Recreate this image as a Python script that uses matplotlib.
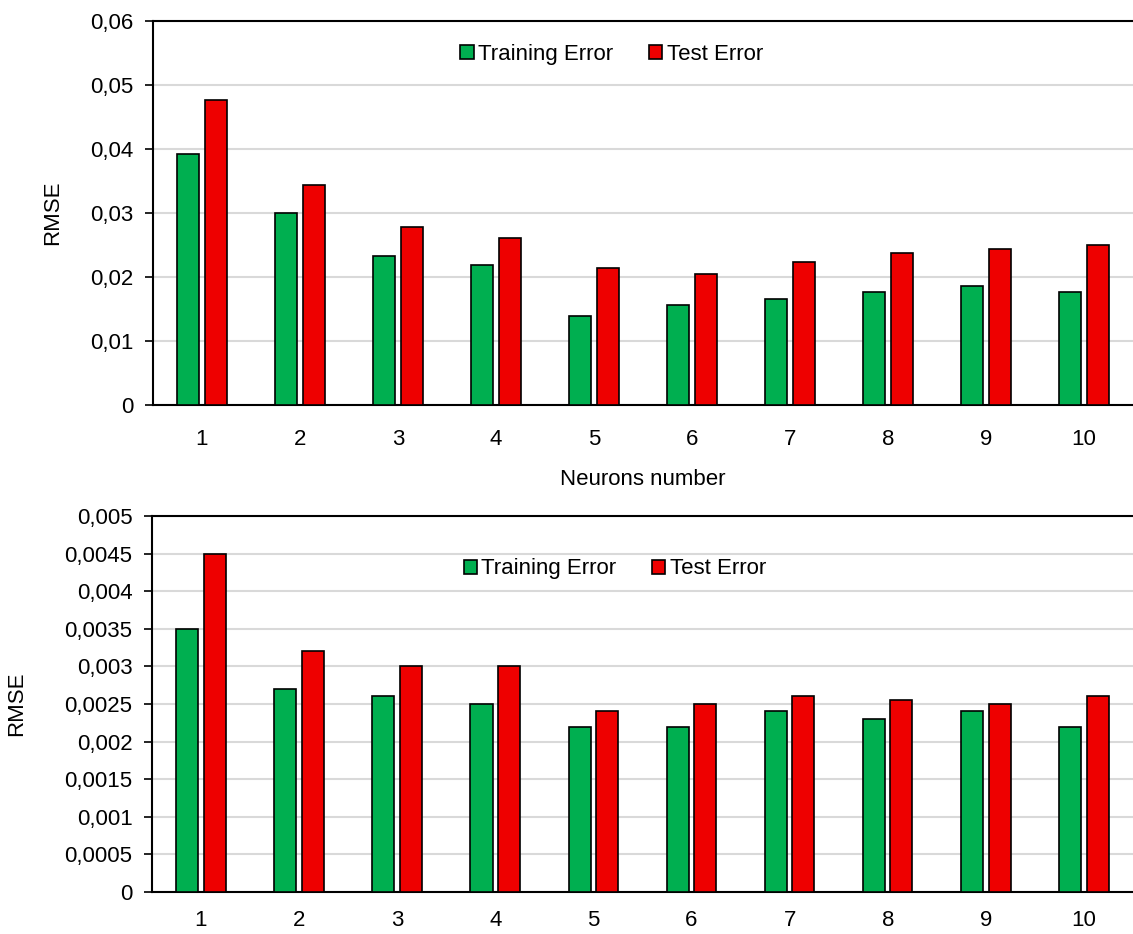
import matplotlib
matplotlib.use("Agg")
import matplotlib.pyplot as plt
from matplotlib.ticker import FuncFormatter, MultipleLocator
import numpy as np

plt.rcParams['font.family'] = ['Liberation Sans', 'DejaVu Sans']

neurons = [1, 2, 3, 4, 5, 6, 7, 8, 9, 10]

# top panel
train_top = [0.0392, 0.0300, 0.0233, 0.0218, 0.0139, 0.0156, 0.0166, 0.0176, 0.0186, 0.0176]
test_top = [0.0477, 0.0343, 0.0278, 0.0261, 0.0214, 0.0204, 0.0223, 0.0238, 0.0244, 0.0250]

# bottom panel
train_bot = [0.0035, 0.0027, 0.0026, 0.0025, 0.0022, 0.0022, 0.0024, 0.0023, 0.0024, 0.0022]
test_bot = [0.0045, 0.0032, 0.0030, 0.0030, 0.0024, 0.0025, 0.0026, 0.00255, 0.0025, 0.0026]

GREEN, RED = "#00AF50", "#EE0000"
FS = 16


def comma(v, pos):
    s = "%g" % round(v, 6)
    return s.replace(".", ",")


def panel(ax, train, test, ymax, step, legend_xy, xpad):
    x = np.array(neurons)
    w, off = 0.225, 0.14
    ax.bar(x - off, train, w, color=GREEN, edgecolor="black", linewidth=1.2,
           label="Training Error", zorder=3)
    ax.bar(x + off, test, w, color=RED, edgecolor="black", linewidth=1.2,
           label="Test Error", zorder=3)
    ax.set_xlim(0.5, 10.5)
    ax.set_ylim(0, ymax)
    ax.yaxis.set_major_locator(MultipleLocator(step))
    ax.yaxis.set_major_formatter(FuncFormatter(comma))
    ax.set_xticks(x)
    ax.tick_params(axis="x", length=0, pad=xpad, labelsize=FS)
    ax.tick_params(axis="y", length=6, width=1.2, direction="out", labelsize=FS, pad=8)
    ax.grid(axis="y", color="#d9d9d9", linewidth=1.5, zorder=0)
    ax.spines["right"].set_visible(False)
    for s in ("left", "top", "bottom"):
        ax.spines[s].set_linewidth(1.5)
    ax.set_ylabel("RMSE", fontsize=FS)
    ax.legend(loc="center", bbox_to_anchor=legend_xy, ncol=2, frameon=False,
              fontsize=FS, handlelength=0.6, handleheight=0.6, handletextpad=0.2,
              columnspacing=1.6)


fig = plt.figure(figsize=(11.33, 9.34), dpi=100)
ax1 = fig.add_axes([0.135, 0.5664, 0.865, 0.4111])
ax2 = fig.add_axes([0.134, 0.045, 0.866, 0.4026])

panel(ax1, train_top, test_top, 0.06, 0.01, (0.468, 0.914), 17)
ax1.set_xlabel("Neurons number", fontsize=FS, labelpad=14)
ax1.yaxis.set_label_coords(-0.092, 0.5)

panel(ax2, train_bot, test_bot, 0.005, 0.0005, (0.472, 0.859), 13)
ax2.yaxis.set_label_coords(-0.127, 0.5)

fig.savefig("out.png", dpi=100)
